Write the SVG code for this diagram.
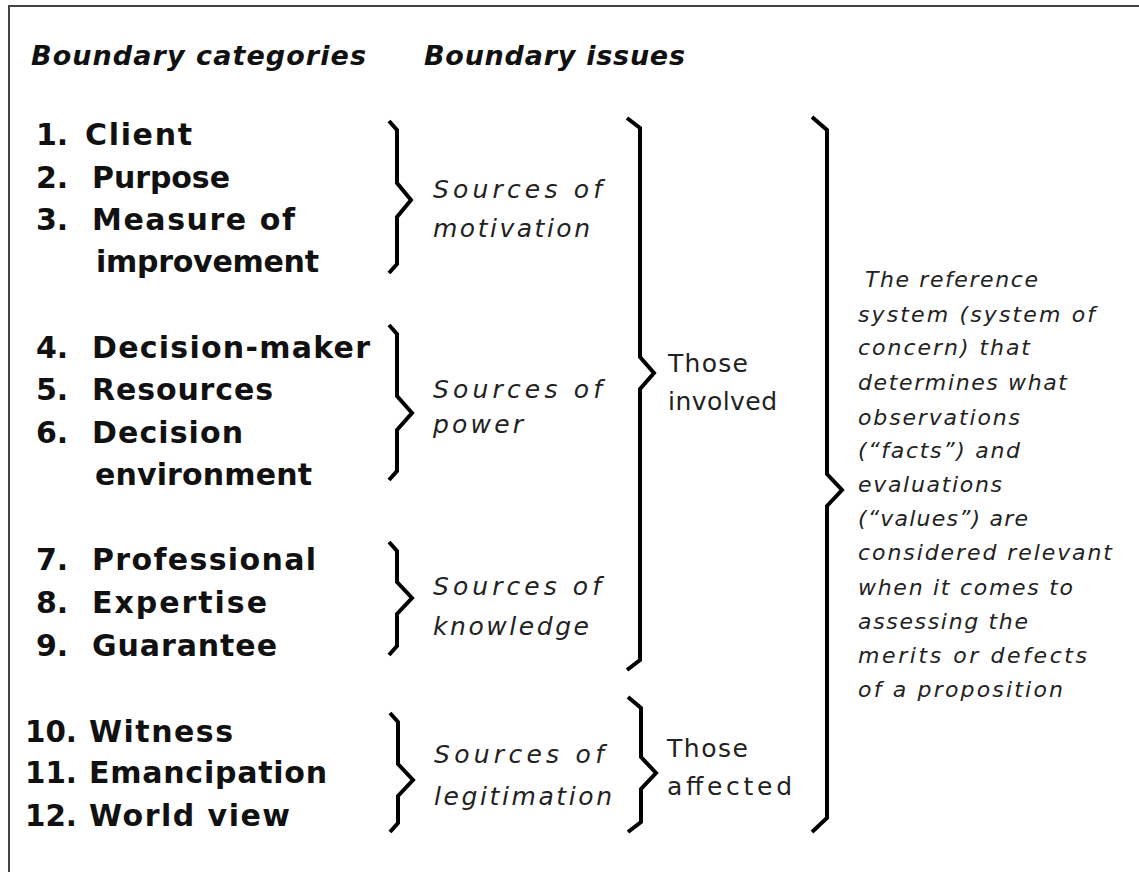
<svg xmlns="http://www.w3.org/2000/svg" width="1139" height="872" viewBox="0 0 1139 872">
<style>
.hd{font-family:"DejaVu Sans","Liberation Sans",sans-serif;font-size:27px;font-weight:bold;font-style:italic;fill:#111}
.it{font-family:"DejaVu Sans","Liberation Sans",sans-serif;font-size:30px;font-weight:bold;fill:#111}
.num{font-family:"DejaVu Sans","Liberation Sans",sans-serif;font-size:30px;font-weight:bold;fill:#111}
.src{font-family:"DejaVu Sans","Liberation Sans",sans-serif;font-size:25px;font-style:italic;fill:#222}
.who{font-family:"DejaVu Sans","Liberation Sans",sans-serif;font-size:25px;fill:#222}
.ref{font-family:"DejaVu Sans","Liberation Sans",sans-serif;font-size:22px;font-style:italic;fill:#222}
.br{fill:none;stroke:#000;stroke-width:4;stroke-linejoin:miter}
</style>
<rect width="1139" height="872" fill="#fff"/>
<path d="M9,872 V6 H1139" fill="none" stroke="#444" stroke-width="2"/>
<g id="headers">
<text class="hd" x="31" y="65" textLength="335" lengthAdjust="spacing">Boundary categories</text>
<text class="hd" x="424" y="65" textLength="261" lengthAdjust="spacing">Boundary issues</text>
</g>
<g id="categories-motivation">
<text class="num" x="36" y="145">1.</text><text class="it" x="85" y="145" textLength="107" lengthAdjust="spacing">Client</text>
<text class="num" x="36" y="188">2.</text><text class="it" x="92" y="188" textLength="138" lengthAdjust="spacing">Purpose</text>
<text class="num" x="36" y="230">3.</text><text class="it" x="92" y="230" textLength="203" lengthAdjust="spacing">Measure of</text>
<text class="it" x="96" y="272" textLength="223" lengthAdjust="spacing">improvement</text>
</g>
<g id="categories-power">
<text class="num" x="36" y="358">4.</text><text class="it" x="92" y="358" textLength="278" lengthAdjust="spacing">Decision-maker</text>
<text class="num" x="36" y="400">5.</text><text class="it" x="92" y="400" textLength="181" lengthAdjust="spacing">Resources</text>
<text class="num" x="36" y="443">6.</text><text class="it" x="92" y="443" textLength="151" lengthAdjust="spacing">Decision</text>
<text class="it" x="95" y="485" textLength="217" lengthAdjust="spacing">environment</text>
</g>
<g id="categories-knowledge">
<text class="num" x="36" y="570">7.</text><text class="it" x="92" y="570" textLength="224" lengthAdjust="spacing">Professional</text>
<text class="num" x="36" y="613">8.</text><text class="it" x="92" y="613" textLength="175" lengthAdjust="spacing">Expertise</text>
<text class="num" x="36" y="656">9.</text><text class="it" x="92" y="656" textLength="185" lengthAdjust="spacing">Guarantee</text>
</g>
<g id="categories-legitimation">
<text class="num" x="25" y="742" textLength="52" lengthAdjust="spacingAndGlyphs">10.</text><text class="it" x="89" y="742" textLength="144" lengthAdjust="spacing">Witness</text>
<text class="num" x="25" y="783" textLength="52" lengthAdjust="spacingAndGlyphs">11.</text><text class="it" x="89" y="783" textLength="238" lengthAdjust="spacing">Emancipation</text>
<text class="num" x="25" y="826" textLength="52" lengthAdjust="spacingAndGlyphs">12.</text><text class="it" x="89" y="826" textLength="201" lengthAdjust="spacing">World view</text>
</g>
<g id="issue-motivation">
<text class="src" x="433" y="198" textLength="169" lengthAdjust="spacing">Sources of</text>
<text class="src" x="433" y="237" textLength="157" lengthAdjust="spacing">motivation</text>
</g>
<g id="issue-power">
<text class="src" x="433" y="398" textLength="169" lengthAdjust="spacing">Sources of</text>
<text class="src" x="433" y="433" textLength="90" lengthAdjust="spacing">power</text>
</g>
<g id="issue-knowledge">
<text class="src" x="433" y="595" textLength="168" lengthAdjust="spacing">Sources of</text>
<text class="src" x="433" y="635" textLength="156" lengthAdjust="spacing">knowledge</text>
</g>
<g id="issue-legitimation">
<text class="src" x="434" y="763" textLength="170" lengthAdjust="spacing">Sources of</text>
<text class="src" x="434" y="805" textLength="178" lengthAdjust="spacing">legitimation</text>
</g>
<g id="those-involved">
<text class="who" x="668" y="372" textLength="80" lengthAdjust="spacing">Those</text>
<text class="who" x="668" y="410" textLength="109" lengthAdjust="spacing">involved</text>
</g>
<g id="those-affected">
<text class="who" x="667" y="757" textLength="81" lengthAdjust="spacing">Those</text>
<text class="who" x="667" y="795" textLength="125" lengthAdjust="spacing">affected</text>
</g>
<g id="reference-system">
<text class="ref" x="865" y="287" textLength="173" lengthAdjust="spacing">The reference</text>
<text class="ref" x="858" y="322" textLength="237" lengthAdjust="spacing">system (system of</text>
<text class="ref" x="858" y="355" textLength="172" lengthAdjust="spacing">concern) that</text>
<text class="ref" x="858" y="390" textLength="209" lengthAdjust="spacing">determines what</text>
<text class="ref" x="858" y="425" textLength="162" lengthAdjust="spacing">observations</text>
<text class="ref" x="858" y="458" textLength="162" lengthAdjust="spacing">(“facts”) and</text>
<text class="ref" x="858" y="492" textLength="144" lengthAdjust="spacing">evaluations</text>
<text class="ref" x="858" y="526" textLength="170" lengthAdjust="spacing">(“values”) are</text>
<text class="ref" x="858" y="560" textLength="254" lengthAdjust="spacing">considered relevant</text>
<text class="ref" x="858" y="595" textLength="215" lengthAdjust="spacing">when it comes to</text>
<text class="ref" x="858" y="629" textLength="170" lengthAdjust="spacing">assessing the</text>
<text class="ref" x="858" y="663" textLength="229" lengthAdjust="spacing">merits or defects</text>
<text class="ref" x="858" y="697" textLength="205" lengthAdjust="spacing">of a proposition</text>
</g>
<g id="connectors">
<path class="br" d="M389,121 L397,130 L397,183 L411,200 L397,217 L397,264 L389,273"/>
<path class="br" d="M389,325 L397,334 L397,396 L412,413 L397,430 L397,471 L389,480"/>
<path class="br" d="M389,542 L397,551 L397,582 L412,598 L397,614 L397,646 L389,655"/>
<path class="br" d="M390,713 L398,722 L398,764 L413,780 L398,796 L398,823 L390,832"/>
<path class="br" d="M627,118 L640,128 L640,357 L654,373 L640,389 L640,660 L627,670"/>
<path class="br" d="M628,697 L641,708 L641,757 L656,773 L641,789 L641,822 L628,832"/>
<path class="br" d="M812,117 L827,130 L827,474 L842,490 L827,506 L827,818 L812,832"/>
</g>
</svg>
